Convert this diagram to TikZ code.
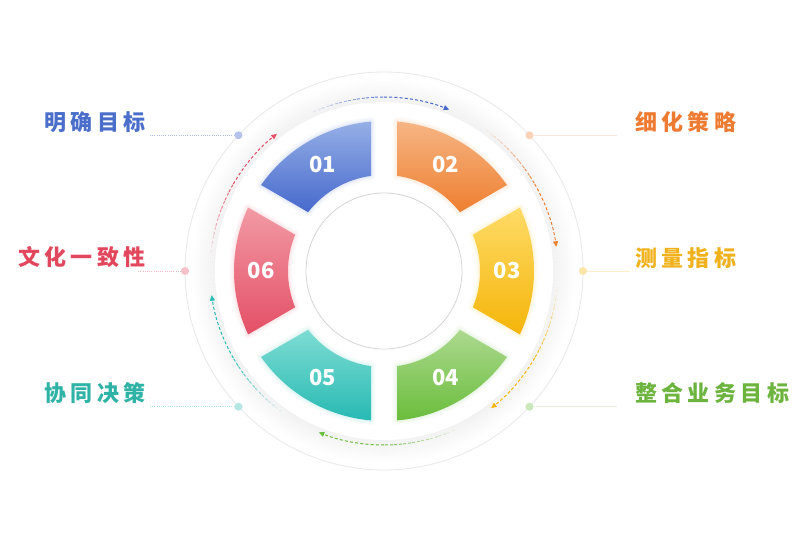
\documentclass[tikz,border=0pt]{standalone}
\usepackage{fontspec}
\usepackage{xcolor}
\usetikzlibrary{arrows.meta}
\newfontfamily\cjk{Noto Sans CJK SC}
\definecolor{blueA}{HTML}{95AFE6}\definecolor{blueB}{HTML}{4769CC}
\definecolor{orangeA}{HTML}{F6B584}\definecolor{orangeB}{HTML}{EE7F30}
\definecolor{yellowA}{HTML}{FEDB66}\definecolor{yellowB}{HTML}{F5B50A}
\definecolor{greenA}{HTML}{ACD98F}\definecolor{greenB}{HTML}{6ABD3C}
\definecolor{tealA}{HTML}{7EDCD3}\definecolor{tealB}{HTML}{27BAB3}
\definecolor{redA}{HTML}{F29AA5}\definecolor{redB}{HTML}{E44F66}
\definecolor{blueT}{HTML}{4A6EC9}\definecolor{orangeT}{HTML}{EE7B32}
\definecolor{yellowT}{HTML}{F0B11B}\definecolor{greenT}{HTML}{6CB43D}
\definecolor{tealT}{HTML}{2FB3A6}\definecolor{redT}{HTML}{E2485D}
\def\Rout{150pt}
\def\Rin{96pt}
% one ring piece, centred on angle #1, cut by gaps of constant width
\newcommand{\ringseg}[1]{%
  (#1-30+\ao:\Rout) arc[start angle={#1-30+\ao},end angle={#1+30-\ao},radius=\Rout]
  -- (#1+30-\ai:\Rin) arc[start angle={#1+30-\ai},end angle={#1-30+\ai},radius=\Rin] -- cycle}

\begin{document}
\begin{tikzpicture}[x=1pt,y=1pt,
  numlbl/.style={text=white,font=\cjk\bfseries\fontsize{22}{22}\selectfont},
  steplbl/.style={font=\cjk\bfseries\fontsize{22}{22}\selectfont\addfontfeature{LetterSpace=20},inner sep=0pt},
  flow/.style={line width=1pt,dash pattern=on 3pt off 2.2pt},
  dot/.style={circle,inner sep=0pt,minimum size=8pt},
  leaderL/.style={line width=.7pt,dash pattern=on .8pt off 1.4pt},
  leaderR/.style={line width=.7pt}
]
 \path[use as bounding box,fill=white] (0,0) rectangle (811,547);
 \pgfmathsetmacro\ao{asin(13/150)}
 \pgfmathsetmacro\ai{asin(13/96)}

 \begin{scope}[shift={(384,276)}]
  \draw[black!9,line width=.8pt] (0,0) circle[radius=199pt];
  % soft shadow round the white disc
  \foreach \r in {0,...,11} {
    \pgfmathsetmacro\op{.045*(1-\r/12)}
    \draw[black,line width=2.1pt,opacity=\op] (0,0) circle[radius=169pt+2*\r pt];
  }
  \fill[white] (0,0) circle[radius=169pt];

  \foreach \ang/\num/\ca/\cb in {120/01/blueA/blueB,60/02/orangeA/orangeB,
      0/03/yellowA/yellowB,-60/04/greenA/greenB,-120/05/tealA/tealB,180/06/redA/redB} {
    \foreach \w/\o in {9/.05,6/.07,3/.1}
      \draw[draw=\ca,line width=\w pt,opacity=\o,line join=round] \ringseg{\ang};
    \shade[top color=\ca,bottom color=\cb] \ringseg{\ang};
    \node[numlbl] (n\num) at (\ang:123pt) {\num};
    % dashed flow arc to the next piece, fading in
    \foreach \s in {0,...,7} {
      \pgfmathsetmacro\op{(\s+1)/9}
      \draw[flow,draw=\cb,opacity=\op] (\ang-6-\s*3:174pt)
        arc[start angle={\ang-6-\s*3},end angle={\ang-9-\s*3},radius=174pt];
    }
    \draw[flow,draw=\cb,-{Triangle[length=5.5pt,width=5pt]}] (\ang-30:174pt)
      arc[start angle={\ang-30},end angle={\ang-52},radius=174pt];
  }

  \draw[black!16,line width=.8pt] (0,0) circle[radius=78pt];
 \end{scope}

 % leaders and labels
 \node[dot,fill=blueB!40] (d1) at (238.5,411.7) {};
 \node[dot,fill=orangeB!35] (d2) at (529.5,411.7) {};
 \node[dot,fill=yellowB!35] (d3) at (583,276) {};
 \node[dot,fill=greenB!35] (d4) at (529.5,140.3) {};
 \node[dot,fill=tealB!35] (d5) at (238.5,140.3) {};
 \node[dot,fill=redB!35] (d6) at (185,276) {};

 \coordinate (e1) at (150,411.7);
 \coordinate (e2) at (617,411.7);
 \coordinate (e3) at (630,276);
 \coordinate (e4) at (617,140.3);
 \coordinate (e5) at (150,140.3);
 \coordinate (e6) at (138,276);

 \draw[leaderL,draw=blueB!45] (d1) -- (e1);
 \draw[leaderR,draw=orangeB!18] (d2) -- (e2);
 \draw[leaderR,draw=yellowB!22] (d3) -- (e3);
 \draw[leaderR,draw=greenB!18] (d4) -- (e4);
 \draw[leaderL,draw=tealB!40] (d5) -- (e5);
 \draw[leaderL,draw=redB!40] (d6) -- (e6);

 \node[steplbl,text=blueT,anchor=east] (t1) at (146,425) {明确目标};
 \node[steplbl,text=orangeT,anchor=west] (t2) at (635,425) {细化策略};
 \node[steplbl,text=yellowT,anchor=west] (t3) at (635,289) {测量指标};
 \node[steplbl,text=greenT,anchor=west] (t4) at (635,154) {整合业务目标};
 \node[steplbl,text=tealT,anchor=east] (t5) at (146,154) {协同决策};
 \node[steplbl,text=redT,anchor=east] (t6) at (146,290) {文化一致性};
\end{tikzpicture}
\end{document}
